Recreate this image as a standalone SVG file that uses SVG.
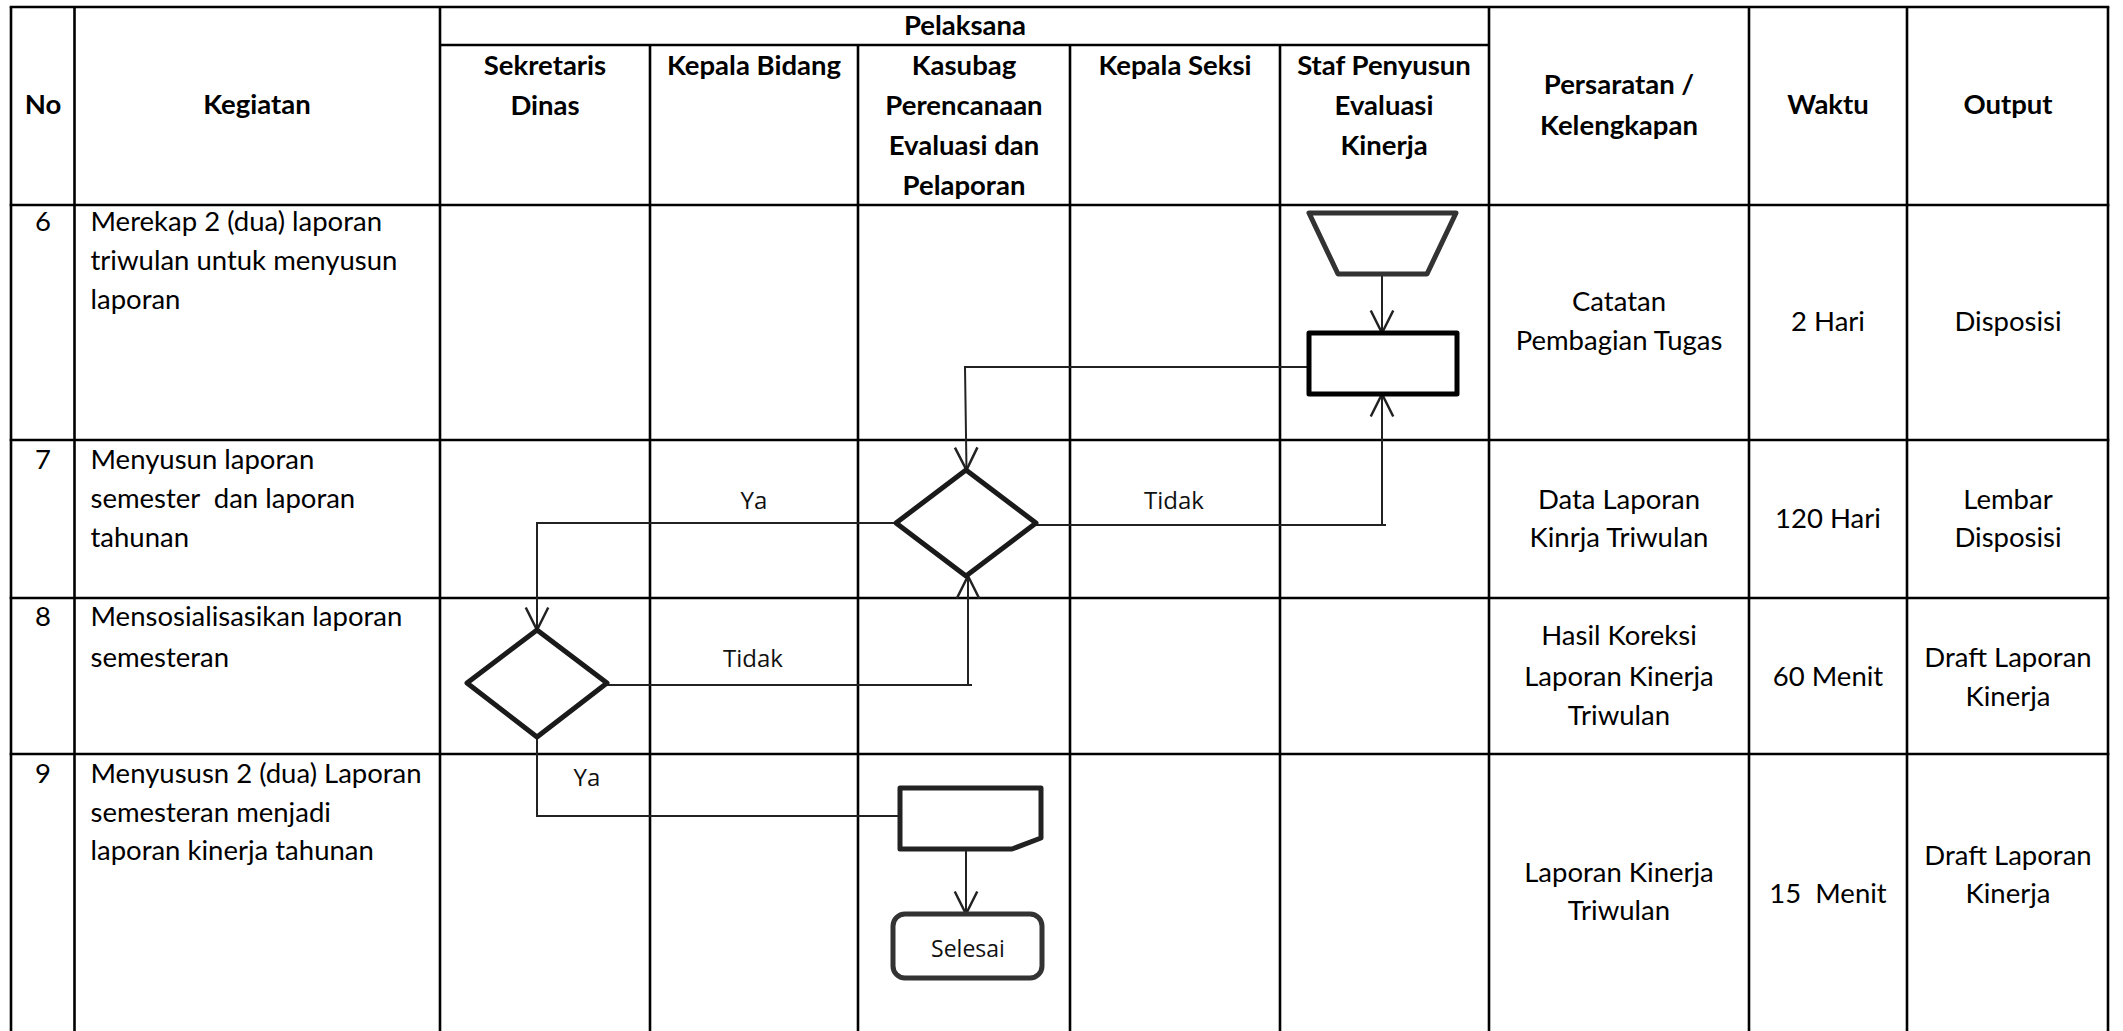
<svg xmlns="http://www.w3.org/2000/svg" width="2123" height="1031" viewBox="0 0 2123 1031">
<style>
  .grid line { stroke:#000; stroke-width:2.6; }
  .h { font-family:Lato,"Liberation Sans",sans-serif; font-weight:bold; font-size:27.5px; fill:#000; }
  .t { font-family:Lato,"Liberation Sans",sans-serif; font-size:27.5px; fill:#000; }
  .c { text-anchor:middle; }
  .lbl { font-family:"Open Sans","Noto Sans",sans-serif; font-size:24px; fill:#111; text-anchor:middle; }
  .conn path { fill:none; stroke:#222; stroke-width:2; }
  .shape { fill:#fff; stroke-width:5; stroke-linejoin:round; }
</style>
<defs>
  <marker id="arr" markerUnits="userSpaceOnUse" markerWidth="30" markerHeight="30" viewBox="-20 -12 24 24" refX="0" refY="0" orient="auto">
    <path d="M-18,-9 L0,0 L-18,9" fill="none" stroke="#222" stroke-width="2"/>
  </marker>
</defs>
<rect width="2123" height="1031" fill="#fff"/>
<g id="table" class="grid">
  <line x1="11" y1="7" x2="11" y2="1031"/>
  <line x1="74.5" y1="7" x2="74.5" y2="1031"/>
  <line x1="440" y1="7" x2="440" y2="1031"/>
  <line x1="650" y1="45" x2="650" y2="1031"/>
  <line x1="858" y1="45" x2="858" y2="1031"/>
  <line x1="1070" y1="45" x2="1070" y2="1031"/>
  <line x1="1280" y1="45" x2="1280" y2="1031"/>
  <line x1="1489" y1="7" x2="1489" y2="1031"/>
  <line x1="1749" y1="7" x2="1749" y2="1031"/>
  <line x1="1907" y1="7" x2="1907" y2="1031"/>
  <line x1="2108" y1="7" x2="2108" y2="1031"/>
  <line x1="9.7" y1="7" x2="2109.3" y2="7"/>
  <line x1="440" y1="45" x2="1489" y2="45"/>
  <line x1="9.7" y1="205" x2="2109.3" y2="205"/>
  <line x1="9.7" y1="440" x2="2109.3" y2="440"/>
  <line x1="9.7" y1="598" x2="2109.3" y2="598"/>
  <line x1="9.7" y1="754" x2="2109.3" y2="754"/>
</g>
<g id="header">
  <text class="h c" x="43" y="114">No</text>
  <text class="h c" x="257" y="114">Kegiatan</text>
  <text class="h c" x="965" y="35">Pelaksana</text>
  <text class="h c" x="545" y="75">Sekretaris</text>
  <text class="h c" x="545" y="115">Dinas</text>
  <text class="h c" x="754" y="75">Kepala Bidang</text>
  <text class="h c" x="964" y="75">Kasubag</text>
  <text class="h c" x="964" y="115">Perencanaan</text>
  <text class="h c" x="964" y="155">Evaluasi dan</text>
  <text class="h c" x="964" y="195">Pelaporan</text>
  <text class="h c" x="1175" y="75">Kepala Seksi</text>
  <text class="h c" x="1384" y="75">Staf Penyusun</text>
  <text class="h c" x="1384" y="115">Evaluasi</text>
  <text class="h c" x="1384" y="155">Kinerja</text>
  <text class="h c" x="1619" y="94">Persaratan /</text>
  <text class="h c" x="1619" y="135">Kelengkapan</text>
  <text class="h c" x="1828" y="114">Waktu</text>
  <text class="h c" x="2008" y="114">Output</text>
</g>
<g id="rows">
  <text class="t c" x="43" y="231">6</text>
  <text class="t" x="90.5" y="231">Merekap 2 (dua) laporan</text>
  <text class="t" x="90.5" y="270">triwulan untuk menyusun</text>
  <text class="t" x="90.5" y="309">laporan</text>
  <text class="t c" x="1619" y="311">Catatan</text>
  <text class="t c" x="1619" y="350">Pembagian Tugas</text>
  <text class="t c" x="1828" y="331">2 Hari</text>
  <text class="t c" x="2008" y="331">Disposisi</text>

  <text class="t c" x="43" y="469">7</text>
  <text class="t" x="90.5" y="469">Menyusun laporan</text>
  <text class="t" x="90.5" y="508" xml:space="preserve">semester  dan laporan</text>
  <text class="t" x="90.5" y="547">tahunan</text>
  <text class="t c" x="1619" y="509">Data Laporan</text>
  <text class="t c" x="1619" y="547">Kinrja Triwulan</text>
  <text class="t c" x="1828" y="528">120 Hari</text>
  <text class="t c" x="2008" y="509">Lembar</text>
  <text class="t c" x="2008" y="547">Disposisi</text>

  <text class="t c" x="43" y="626">8</text>
  <text class="t" x="90.5" y="626">Mensosialisasikan laporan</text>
  <text class="t" x="90.5" y="667">semesteran</text>
  <text class="t c" x="1619" y="645">Hasil Koreksi</text>
  <text class="t c" x="1619" y="686">Laporan Kinerja</text>
  <text class="t c" x="1619" y="725">Triwulan</text>
  <text class="t c" x="1828" y="686">60 Menit</text>
  <text class="t c" x="2008" y="667">Draft Laporan</text>
  <text class="t c" x="2008" y="706">Kinerja</text>

  <text class="t c" x="43" y="783">9</text>
  <text class="t" x="90.5" y="783">Menyususn 2 (dua) Laporan</text>
  <text class="t" x="90.5" y="822">semesteran menjadi</text>
  <text class="t" x="90.5" y="860">laporan kinerja tahunan</text>
  <text class="t c" x="1619" y="882">Laporan Kinerja</text>
  <text class="t c" x="1619" y="920">Triwulan</text>
  <text class="t c" x="1828" y="903" xml:space="preserve">15  Menit</text>
  <text class="t c" x="2008" y="865">Draft Laporan</text>
  <text class="t c" x="2008" y="903">Kinerja</text>
</g>
<g id="connectors" class="conn">
  <path d="M1382,274 V333" marker-end="url(#arr)"/>
  <path d="M1309,367 H965 L966.5,470" marker-end="url(#arr)"/>
  <path d="M1036,525 H1386 M1382,525 V394" marker-end="url(#arr)"/>
  <path d="M896,523 H537 V630" marker-end="url(#arr)"/>
  <path d="M607,685 H972 M968,685 V576" marker-end="url(#arr)"/>
  <path d="M537,737 V816 H900"/>
  <path d="M966,849 V914" marker-end="url(#arr)"/>
</g>
<g id="labels">
  <text class="lbl" x="754" y="509">Ya</text>
  <text class="lbl" x="1174" y="509">Tidak</text>
  <text class="lbl" x="753" y="667">Tidak</text>
  <text class="lbl" x="587" y="786">Ya</text>
</g>
<g id="node-manual-input">
  <polygon class="shape" stroke="#333" points="1309,213 1456,213 1427,274 1338,274"/>
</g>
<g id="node-process">
  <rect class="shape" stroke="#000" x="1309" y="333" width="148" height="61"/>
</g>
<g id="node-decision-1">
  <polygon class="shape" stroke="#1a1a1a" points="966,470 1036,523 966,576 896,523"/>
</g>
<g id="node-decision-2">
  <polygon class="shape" stroke="#1a1a1a" points="537,630 607,683 537,737 467,683"/>
</g>
<g id="node-document">
  <polygon class="shape" stroke="#222" points="900,788 1041,788 1041,838 1012,849 900,849"/>
</g>
<g id="node-selesai">
  <rect class="shape" stroke="#333" stroke-width="4" x="893" y="914" width="149" height="64" rx="12"/>
  <text class="lbl" x="968" y="957" style="font-size:23px">Selesai</text>
</g>
</svg>
